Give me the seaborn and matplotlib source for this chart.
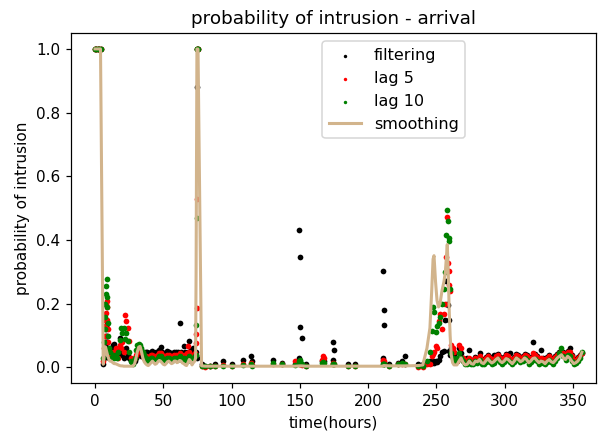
import matplotlib
matplotlib.use("Agg")
import matplotlib.pyplot as plt
import seaborn as sns
import pandas as pd

# ---------------- data ----------------
hours = [
    0, 1, 2, 3, 4,
    6.0, 6.5, 7.0, 7.3, 7.6, 7.9, 8.2, 8.5, 8.8, 9.1, 9.4, 9.8, 10.2,
    11, 12, 13, 14, 15, 16, 17, 18, 19, 20, 21, 22, 23, 24, 25, 26, 27, 28, 29, 30,
    31, 32, 33, 34, 35, 36, 37, 38, 39, 40, 41, 42, 43, 44, 45, 46, 47, 48, 49, 50,
    51, 52, 53, 54, 55, 56, 57, 58, 59, 60, 61, 62, 63, 64, 65, 66, 67, 68, 69, 70,
    71, 72, 73,
    73.6, 74.0, 74.3, 74.6, 75.0, 75.4, 78.0,
    80.5, 84.2, 87.8, 93.5, 100.1, 108.6, 114.2, 114.6, 130.3, 136.7, 146.4,
    149.3, 149.6, 149.9, 150.2, 151.3, 154.4, 165.9, 167.0, 168.0, 174.1, 174.5,
    174.9, 185.5, 190.4, 210.6, 211.0, 211.4, 211.8, 215.5, 222.0, 224.5, 227.0, 236.7,
    240.0, 243.0, 245.2, 246.5, 247.5, 248.2, 249.3, 250.4, 251.5, 252.6, 254.0,
    255.5, 256.5, 257.3, 257.9, 258.4, 258.9, 259.4, 260.0, 260.8, 261.8, 262.8,
    265, 266.5, 268, 269.5, 271, 272.5, 274, 275.5, 277, 278.5, 280, 281.5, 283, 284.5,
    286, 287.5, 289, 290.5, 292, 293.5, 295, 296.5, 298, 299.5, 301, 302.5, 304, 305.5,
    307, 308.5, 310, 311.5, 313, 314.5, 316, 317.5, 319, 320.5, 322, 323.5, 325, 326.5,
    328, 329.5, 331, 332.5, 334, 335.5, 337, 338.5, 340, 341.5, 343, 344.5, 346, 347.5,
    349, 350.5, 352, 353.5, 355, 356.5,
]

filtering = [
    1.0, 1.0, 1.0, 1.0, 1.0,
    0.01, 0.03, 0.05, 0.07, 0.08, 0.10, 0.12, 0.135, 0.10, 0.08, 0.06, 0.05, 0.03,
    0.04, 0.06, 0.071, 0.073, 0.05, 0.04, 0.06, 0.094, 0.05, 0.04, 0.03, 0.05, 0.06, 0.04, 0.03, 0.02, 0.02, 0.015, 0.02, 0.03,
    0.04, 0.05, 0.045, 0.035, 0.04, 0.05, 0.05, 0.05, 0.04, 0.045, 0.05, 0.052, 0.045, 0.04, 0.048, 0.05, 0.055, 0.063, 0.05, 0.045,
    0.04, 0.045, 0.052, 0.05, 0.045, 0.04, 0.045, 0.05, 0.048, 0.045, 0.05, 0.141, 0.05, 0.045, 0.066, 0.05, 0.045, 0.05, 0.082, 0.055,
    0.045, 0.061, 0.05,
    0.05, 0.04, 0.03, 0.88, 1.0, 1.0, 0.01,
    0.005, 0.006, 0.01, 0.02, 0.01, 0.024, 0.037, 0.02, 0.024, 0.015, 0.01,
    0.03, 0.43, 0.346, 0.127, 0.092, 0.01, 0.02, 0.025, 0.02, 0.024, 0.08,
    0.055, 0.01, 0.01, 0.03, 0.304, 0.132, 0.179, 0.01, 0.015, 0.02, 0.037, 0.01,
    0.01, 0.015, 0.02, 0.015, 0.019, 0.014, 0.02, 0.016, 0.025, 0.035, 0.05,
    0.052, 0.15, 0.27, 0.2, 0.197, 0.15, 0.052, 0.04, 0.061, 0.05, 0.04,
    0.02, 0.061, 0.045, 0.03, 0.022, 0.03, 0.055, 0.025, 0.023, 0.033, 0.03, 0.047, 0.028, 0.025,
    0.033, 0.04, 0.033, 0.027, 0.04, 0.038, 0.043, 0.033, 0.027, 0.033, 0.041, 0.038, 0.047, 0.025,
    0.033, 0.043, 0.038, 0.031, 0.035, 0.043, 0.038, 0.028, 0.033, 0.08, 0.043, 0.035, 0.028, 0.055,
    0.031, 0.025, 0.033, 0.038, 0.031, 0.028, 0.035, 0.043, 0.048, 0.053, 0.048, 0.043, 0.053, 0.06,
    0.038, 0.028, 0.028, 0.033, 0.038, 0.045,
]

lag5 = [
    1.0, 1.0, 1.0, 1.0, 1.0,
    0.02, 0.06, 0.10, 0.13, 0.15, 0.17, 0.20, 0.21, 0.19, 0.15, 0.12, 0.08, 0.05,
    0.03, 0.04, 0.05, 0.04, 0.06, 0.05, 0.03, 0.07, 0.06, 0.08, 0.05, 0.164, 0.147, 0.124, 0.082, 0.03, 0.02, 0.02, 0.03, 0.04,
    0.05, 0.06, 0.06, 0.05, 0.04, 0.03, 0.035, 0.03, 0.03, 0.035, 0.04, 0.04, 0.035, 0.03, 0.035, 0.04, 0.045, 0.045, 0.04, 0.035,
    0.03, 0.035, 0.04, 0.04, 0.035, 0.03, 0.035, 0.04, 0.038, 0.035, 0.04, 0.045, 0.04, 0.035, 0.04, 0.035, 0.045, 0.066, 0.05, 0.04,
    0.035, 0.04, 0.045,
    0.077, 0.104, 0.187, 0.53, 1.0, 1.0, 0.005,
    0.003, 0.004, 0.005, 0.008, 0.005, 0.01, 0.015, 0.008, 0.012, 0.01, 0.019,
    0.015, 0.01, 0.012, 0.01, 0.008, 0.005, 0.025, 0.035, 0.03, 0.012, 0.015,
    0.01, 0.005, 0.006, 0.02, 0.025, 0.02, 0.015, 0.005, 0.01, 0.012, 0.01, 0.003,
    0.003, 0.01, 0.012, 0.035, 0.043, 0.05, 0.066, 0.06, 0.145, 0.169, 0.12,
    0.169, 0.2, 0.346, 0.473, 0.328, 0.302, 0.26, 0.24, 0.07, 0.06, 0.05,
    0.02, 0.071, 0.06, 0.03, 0.02, 0.022, 0.03, 0.022, 0.02, 0.03, 0.028, 0.035, 0.025, 0.022,
    0.03, 0.036, 0.03, 0.024, 0.028, 0.035, 0.04, 0.03, 0.024, 0.03, 0.038, 0.035, 0.028, 0.022,
    0.03, 0.04, 0.035, 0.028, 0.032, 0.04, 0.035, 0.025, 0.03, 0.045, 0.04, 0.032, 0.025, 0.03,
    0.028, 0.022, 0.03, 0.035, 0.028, 0.025, 0.032, 0.04, 0.045, 0.05, 0.045, 0.04, 0.05, 0.05,
    0.035, 0.025, 0.025, 0.03, 0.035, 0.045,
]

lag10 = [
    1.0, 1.0, 1.0, 1.0, 1.0,
    0.03, 0.08, 0.12, 0.16, 0.20, 0.23, 0.255, 0.277, 0.22, 0.19, 0.14, 0.10, 0.06,
    0.05, 0.03, 0.04, 0.03, 0.04, 0.03, 0.05, 0.087, 0.124, 0.108, 0.124, 0.09, 0.108, 0.082, 0.05, 0.02, 0.015, 0.01, 0.03, 0.055,
    0.07, 0.074, 0.07, 0.06, 0.05, 0.04, 0.03, 0.025, 0.02, 0.025, 0.03, 0.03, 0.025, 0.02, 0.025, 0.03, 0.035, 0.035, 0.03, 0.025,
    0.02, 0.025, 0.03, 0.03, 0.028, 0.022, 0.025, 0.03, 0.03, 0.025, 0.03, 0.035, 0.03, 0.025, 0.03, 0.025, 0.02, 0.03, 0.035, 0.03,
    0.025, 0.03, 0.035,
    0.04, 0.132, 0.47, 1.0, 1.0, 1.0, 0.005,
    0.005, 0.005, 0.006, 0.006, 0.004, 0.008, 0.01, 0.006, 0.015, 0.012, 0.008,
    0.02, 0.015, 0.025, 0.02, 0.012, 0.006, 0.015, 0.018, 0.015, 0.01, 0.012,
    0.01, 0.006, 0.006, 0.01, 0.012, 0.01, 0.01, 0.006, 0.012, 0.013, 0.012, 0.005,
    0.005, 0.02, 0.05, 0.116, 0.189, 0.174, 0.111, 0.131, 0.14, 0.16, 0.2,
    0.246, 0.3, 0.415, 0.494, 0.461, 0.405, 0.398, 0.246, 0.045, 0.03, 0.02,
    0.03, 0.045, 0.03, 0.02, 0.01, 0.012, 0.02, 0.01, 0.012, 0.02, 0.015, 0.022, 0.012, 0.01,
    0.018, 0.025, 0.018, 0.012, 0.015, 0.022, 0.028, 0.018, 0.012, 0.018, 0.025, 0.022, 0.016, 0.01,
    0.018, 0.028, 0.022, 0.016, 0.02, 0.03, 0.022, 0.012, 0.018, 0.025, 0.028, 0.02, 0.012, 0.018,
    0.015, 0.01, 0.018, 0.022, 0.016, 0.012, 0.02, 0.03, 0.045, 0.061, 0.035, 0.025, 0.04, 0.035,
    0.02, 0.012, 0.015, 0.02, 0.03, 0.05,
]

smoothing = [
    1.0, 1.0, 1.0, 1.0, 1.0,
    0.01, 0.03, 0.05, 0.06, 0.065, 0.06, 0.055, 0.05, 0.045, 0.04, 0.035, 0.03, 0.025,
    0.02, 0.02, 0.015, 0.012, 0.012, 0.01, 0.008, 0.006, 0.005, 0.005, 0.004, 0.004, 0.004, 0.004, 0.004, 0.004, 0.004, 0.005, 0.012, 0.03,
    0.05, 0.064, 0.066, 0.05, 0.03, 0.018, 0.012, 0.008, 0.006, 0.01, 0.015, 0.02, 0.015, 0.01, 0.012, 0.018, 0.022, 0.02, 0.015, 0.01,
    0.008, 0.012, 0.018, 0.02, 0.016, 0.012, 0.014, 0.02, 0.02, 0.015, 0.018, 0.022, 0.02, 0.014, 0.012, 0.008, 0.006, 0.015, 0.025, 0.02,
    0.008, 0.015, 0.02,
    0.03, 0.3, 0.65, 1.0, 1.0, 1.0, 0.005,
    0.004, 0.004, 0.004, 0.004, 0.004, 0.004, 0.004, 0.004, 0.004, 0.004, 0.004,
    0.005, 0.005, 0.005, 0.005, 0.005, 0.004, 0.004, 0.004, 0.004, 0.004, 0.004,
    0.004, 0.004, 0.004, 0.004, 0.004, 0.006, 0.006, 0.005, 0.005, 0.005, 0.005, 0.006,
    0.008, 0.06, 0.124, 0.24, 0.34, 0.351, 0.27, 0.21, 0.19, 0.2, 0.24,
    0.27, 0.3, 0.35, 0.386, 0.33, 0.25, 0.17, 0.1, 0.04, 0.015, 0.008,
    0.008, 0.02, 0.03, 0.015, 0.008, 0.01, 0.02, 0.012, 0.01, 0.02, 0.018, 0.025, 0.015, 0.012,
    0.02, 0.028, 0.02, 0.014, 0.018, 0.025, 0.03, 0.02, 0.015, 0.02, 0.028, 0.025, 0.018, 0.012,
    0.02, 0.03, 0.025, 0.018, 0.022, 0.03, 0.025, 0.015, 0.02, 0.028, 0.03, 0.022, 0.015, 0.02,
    0.018, 0.012, 0.02, 0.025, 0.018, 0.015, 0.022, 0.03, 0.035, 0.04, 0.03, 0.025, 0.035, 0.03,
    0.02, 0.012, 0.015, 0.02, 0.03, 0.048,
]

x_ticks = [0, 50, 100, 150, 200, 250, 300, 350]
y_ticks = [0.0, 0.2, 0.4, 0.6, 0.8, 1.0]

n = len(hours)
assert len(filtering) == n and len(lag5) == n and len(lag10) == n and len(smoothing) == n, (
    n, len(filtering), len(lag5), len(lag10), len(smoothing))

df = pd.DataFrame({"hours": hours, "filtering": filtering, "lag5": lag5,
                   "lag10": lag10, "smoothing": smoothing})

# ---------------- figure ----------------
DPI = 110
fig = plt.figure(figsize=(598 / DPI, 434 / DPI), dpi=DPI)
ax = fig.add_axes([71 / 598, 1 - 383.4 / 434, 525 / 598, 350.4 / 434])

pt = dict(s=14, linewidth=0, ax=ax)
sns.scatterplot(data=df, x="hours", y="filtering", color="black", label="filtering", **pt)
sns.scatterplot(data=df, x="hours", y="lag5", color="red", label="lag 5", **pt)
sns.scatterplot(data=df, x="hours", y="lag10", color="green", label="lag 10", **pt)
sns.lineplot(data=df, x="hours", y="smoothing", color="tan", linewidth=2,
             estimator=None, sort=False, label="smoothing", ax=ax)

ax.set_xlim(-17.6, 366.8)
ax.set_ylim(-0.05, 1.05)
ax.set_xticks(x_ticks)
ax.set_yticks(y_ticks)
ax.set_xlabel("time(hours)", fontsize=10)
ax.set_ylabel("probability of intrusion", fontsize=10)
ax.set_title("probability of intrusion - arrival", fontsize=12)
ax.tick_params(labelsize=10)

ax.legend(loc="upper left", bbox_to_anchor=(0.479, 0.976), borderaxespad=0,
          fontsize=10.5, markerscale=0.6)

fig.savefig("out.png", dpi=DPI)
